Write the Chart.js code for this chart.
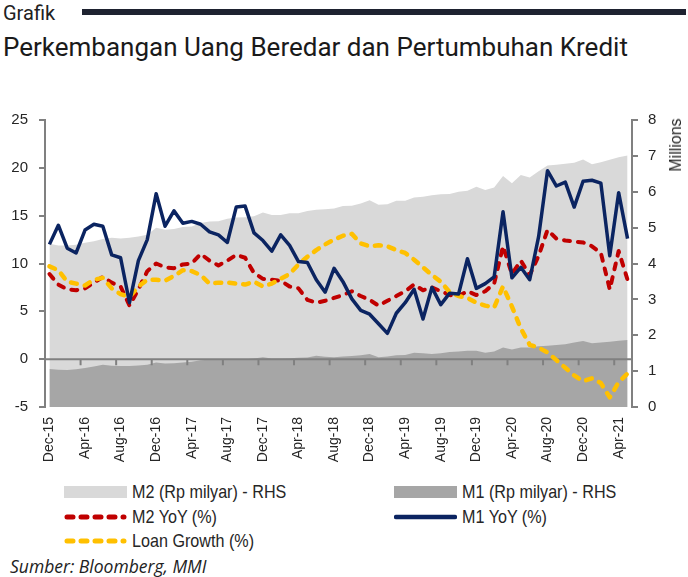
<!DOCTYPE html>
<html>
<head>
<meta charset="utf-8">
<script src="https://cdn.jsdelivr.net/npm/chart.js@4.4.1/dist/chart.umd.min.js"></script>
<style>
  body { margin: 0; width: 688px; height: 577px; background: #fff; position: relative; overflow: hidden; }
  #kicker { position: absolute; left: 3px; top: 3px; font: 20px/20px Roboto, sans-serif; color: #222; }
  #bar { position: absolute; left: 82px; top: 9px; width: 604px; height: 6px; background: #1e2230; }
  #title { position: absolute; left: 3px; top: 34px; font: 26px/26px Roboto, sans-serif; color: #1a1a1a; white-space: nowrap; }
  #wrap { position: absolute; left: 0; top: 100px; width: 688px; height: 370px; }
  #millions { position: absolute; left: 676px; top: 145px; transform: translate(-50%, -50%) rotate(-90deg);
              font: 16px "Liberation Sans", Arial, sans-serif; color: #262626; white-space: nowrap; }
  #legend .item { position: absolute; height: 20px; display: flex; align-items: center;
                  font: 19px "Liberation Sans", sans-serif; color: #262626; white-space: nowrap; }
  #legend .item span { display: inline-block; transform: scaleX(0.85); transform-origin: left center; }
  #legend svg { margin-right: 5px; }
  #source { position: absolute; left: 10px; top: 554px; font: italic 17.5px "Open Sans", sans-serif; color: #222; }
</style>
</head>
<body>
<div id="kicker">Grafik</div>
<div id="bar"></div>
<div id="title">Perkembangan Uang Beredar dan Pertumbuhan Kredit</div>
<div id="wrap"><canvas id="chart" width="688" height="370"></canvas></div>
<div id="millions">Millions</div>
<div id="legend"></div>
<div id="source">Sumber: Bloomberg, MMI</div>

<script>
// --- Data ---
const months = [
  "Dec-15",
  "Jan-16","Feb-16","Mar-16","Apr-16","May-16","Jun-16","Jul-16","Aug-16","Sep-16","Oct-16","Nov-16","Dec-16",
  "Jan-17","Feb-17","Mar-17","Apr-17","May-17","Jun-17","Jul-17","Aug-17","Sep-17","Oct-17","Nov-17","Dec-17",
  "Jan-18","Feb-18","Mar-18","Apr-18","May-18","Jun-18","Jul-18","Aug-18","Sep-18","Oct-18","Nov-18","Dec-18",
  "Jan-19","Feb-19","Mar-19","Apr-19","May-19","Jun-19","Jul-19","Aug-19","Sep-19","Oct-19","Nov-19","Dec-19",
  "Jan-20","Feb-20","Mar-20","Apr-20","May-20","Jun-20","Jul-20","Aug-20","Sep-20","Oct-20","Nov-20","Dec-20",
  "Jan-21","Feb-21","Mar-21","Apr-21","May-21"
];

// M2 and M1 levels, Rp milyar (millions, right axis)
const m2Level = [
  4.55, 4.50, 4.50, 4.52, 4.58, 4.62, 4.68, 4.72, 4.70, 4.72, 4.75, 4.80, 5.00,
  4.94, 4.96, 5.02, 5.03, 5.13, 5.17, 5.18, 5.25, 5.28, 5.29, 5.32, 5.42,
  5.35, 5.35, 5.40, 5.40, 5.46, 5.50, 5.51, 5.53, 5.60, 5.61, 5.67, 5.76,
  5.64, 5.65, 5.75, 5.75, 5.84, 5.86, 5.90, 5.93, 5.94, 6.00, 6.03, 6.14,
  6.05, 6.12, 6.44, 6.24, 6.47, 6.40, 6.57, 6.73, 6.75, 6.78, 6.81, 6.90,
  6.77, 6.82, 6.89, 6.96, 7.01
];
const m1Level = [
  1.06, 1.04, 1.03, 1.05, 1.09, 1.13, 1.18, 1.15, 1.14, 1.14, 1.16, 1.18, 1.24,
  1.21, 1.22, 1.24, 1.26, 1.30, 1.32, 1.31, 1.33, 1.32, 1.33, 1.35, 1.39,
  1.35, 1.35, 1.36, 1.37, 1.38, 1.43, 1.40, 1.39, 1.41, 1.42, 1.44, 1.48,
  1.39, 1.41, 1.44, 1.45, 1.51, 1.50, 1.48, 1.50, 1.53, 1.55, 1.57, 1.57,
  1.51, 1.55, 1.66, 1.60, 1.66, 1.66, 1.69, 1.71, 1.73, 1.75, 1.80, 1.84,
  1.78, 1.80, 1.82, 1.85, 1.87
];

// Growth rates, % (left axis)
const m2Yoy = [
  8.9, 7.8, 7.3, 7.2, 7.4, 8.0, 8.6, 8.0, 7.6, 5.6, 7.3, 9.2, 10.0,
  9.6, 9.5, 9.9, 10.0, 11.0, 10.3, 9.8, 10.3, 10.9, 10.6, 9.0, 8.4,
  8.3, 8.2, 7.6, 7.4, 6.2, 5.9, 6.1, 6.4, 6.7, 7.1, 6.6, 6.2,
  5.6, 6.1, 6.6, 7.1, 7.8, 7.2, 7.5, 7.1, 6.7, 6.6, 7.1, 6.7,
  7.1, 7.9, 11.8, 8.9, 10.3, 8.8, 10.8, 13.5, 12.6, 12.4, 12.3, 12.2,
  11.8, 11.1, 7.3, 11.3, 8.3
];
const m1Yoy = [
  12.0, 14.0, 11.6, 11.1, 13.5, 14.1, 13.9, 10.9, 10.6, 5.9, 10.3, 12.5, 17.3,
  13.9, 15.5, 14.2, 14.4, 14.1, 13.3, 13.0, 12.2, 15.9, 16.0, 13.2, 12.4,
  11.3, 13.0, 11.9, 10.2, 10.1, 8.3, 7.0, 9.5, 8.1, 6.3, 5.1, 4.7,
  3.7, 2.7, 4.8, 5.9, 7.3, 4.2, 7.5, 5.7, 6.9, 6.8, 10.5, 7.4,
  7.9, 8.6, 15.4, 8.5, 9.6, 8.3, 12.8, 19.7, 18.1, 18.5, 15.9, 18.6,
  18.7, 18.4, 10.8, 17.4, 12.6
];
const loanGrowth = [
  9.7, 9.3, 8.1, 7.9, 7.7, 8.3, 8.5, 7.4, 6.8, 6.5, 7.6, 8.3, 8.3,
  8.2, 8.7, 9.3, 9.2, 8.8, 7.9, 8.0, 8.0, 7.9, 7.8, 8.1, 7.6,
  7.9, 8.4, 8.9, 9.9, 10.7, 11.4, 12.0, 12.5, 12.9, 13.1, 12.1, 11.8,
  11.9, 11.8, 11.4, 11.1, 10.4, 9.6, 8.8, 8.1, 7.0, 6.6, 6.4, 5.9,
  5.6, 5.4, 7.6, 5.5, 3.2, 1.5, 1.2, 0.7, -0.1, -0.9, -1.7, -2.3,
  -2.0, -2.5, -4.0, -2.4, -1.5
];

const AXIS_GREY = "#808080";
const TEXT = "#262626";

// --- Zero line + x tick marks, drawn on top of the grey areas but under the lines ---
const zeroLine = {
  id: "zeroLine",
  afterDatasetDraw(chart, args) {
    if (chart.data.datasets[args.index].label !== "M1 (Rp milyar) - RHS") return;
    const { ctx, chartArea, scales: { x, y } } = chart;
    const y0 = y.getPixelForValue(0);
    ctx.save();
    ctx.strokeStyle = AXIS_GREY;
    ctx.lineWidth = 2;
    ctx.beginPath();
    ctx.moveTo(chartArea.left, y0);
    ctx.lineTo(chartArea.right, y0);
    for (let i = 4; i < months.length; i += 4) {
      const xx = (x.getPixelForValue(i - 1) + x.getPixelForValue(i)) / 2;
      ctx.moveTo(xx, y0);
      ctx.lineTo(xx, y0 + 6);
    }
    ctx.stroke();
    ctx.restore();
  }
};

const dash = { borderDash: [6, 8], borderCapStyle: "round", borderJoinStyle: "round" };

const chart = new Chart(document.getElementById("chart"), {
  type: "line",
  data: {
    labels: months,
    datasets: [
      { label: "M2 (Rp milyar) - RHS", data: m2Level, yAxisID: "y1", fill: "start",
        backgroundColor: "#d9d9d9", borderWidth: 0, pointRadius: 0, order: 5 },
      { label: "M1 (Rp milyar) - RHS", data: m1Level, yAxisID: "y1", fill: "start",
        backgroundColor: "#a6a6a6", borderWidth: 0, pointRadius: 0, order: 4 },
      { label: "M2 YoY (%)", data: m2Yoy, yAxisID: "y", borderColor: "#c00000",
        borderWidth: 4, pointRadius: 0, tension: 0, fill: false, order: 3, ...dash },
      { label: "M1 YoY (%)", data: m1Yoy, yAxisID: "y", borderColor: "#0b2461",
        borderWidth: 3.5, pointRadius: 0, tension: 0, fill: false, order: 1, borderJoinStyle: "round" },
      { label: "Loan Growth (%)", data: loanGrowth, yAxisID: "y", borderColor: "#ffc000",
        borderWidth: 4.5, pointRadius: 0, tension: 0, fill: false, order: 2, ...dash }
    ]
  },
  options: {
    responsive: false,
    animation: false,
    layout: { padding: { top: 10, left: 0, right: 0, bottom: 0 } },
    plugins: { legend: { display: false }, tooltip: { enabled: false } },
    scales: {
      x: {
        type: "category",
        offset: true,
        grid: { display: false },
        border: { display: false },
        ticks: {
          autoSkip: false, maxRotation: 90, minRotation: 90, padding: 2,
          color: TEXT, font: { family: "'Liberation Sans'", size: 14 },
          callback: (v, i) => (i % 4 === 0 ? months[i] : "")
        },
        afterFit: s => { s.height = 63; }
      },
      y: {
        position: "left",
        min: -5, max: 25,
        ticks: { stepSize: 5, padding: 11, color: TEXT, font: { family: "'Liberation Sans'", size: 15 } },
        grid: { drawOnChartArea: false, tickLength: 6, color: AXIS_GREY, lineWidth: 2 },
        border: { color: AXIS_GREY, width: 2 },
        afterFit: s => { s.width = 45; }
      },
      y1: {
        position: "right",
        min: 0, max: 8,
        ticks: { stepSize: 1, padding: 10, color: TEXT, font: { family: "'Liberation Sans'", size: 15 } },
        grid: { drawOnChartArea: false, tickLength: 6, color: AXIS_GREY, lineWidth: 2 },
        border: { color: AXIS_GREY, width: 2 },
        afterFit: s => { s.width = 56; }
      }
    }
  },
  plugins: [zeroLine]
});

// --- Legend (two columns, like the original) ---
const legendSpots = {
  "M2 (Rp milyar) - RHS": [64, 482],
  "M1 (Rp milyar) - RHS": [394, 482],
  "M2 YoY (%)": [64, 507],
  "M1 YoY (%)": [394, 507],
  "Loan Growth (%)": [64, 531]
};
const legend = document.getElementById("legend");
chart.data.datasets.forEach(ds => {
  const [left, top] = legendSpots[ds.label];
  const item = document.createElement("div");
  item.className = "item";
  item.style.left = left + "px";
  item.style.top = top + "px";
  let swatch;
  if (ds.fill) {
    swatch = `<svg width="63" height="14"><rect x="0" y="1" width="63" height="12" fill="${ds.backgroundColor}"/></svg>`;
  } else if (ds.borderDash) {
    swatch = `<svg width="63" height="14"><line x1="3" y1="7" x2="60" y2="7" stroke="${ds.borderColor}" stroke-width="5" stroke-linecap="round" stroke-dasharray="${ds.borderDash.join(" ")}"/></svg>`;
  } else {
    swatch = `<svg width="63" height="14"><line x1="2" y1="7" x2="61" y2="7" stroke="${ds.borderColor}" stroke-width="4.5" stroke-linecap="round"/></svg>`;
  }
  item.innerHTML = swatch + `<span>${ds.label}</span>`;
  legend.appendChild(item);
});
</script>
</body>
</html>
